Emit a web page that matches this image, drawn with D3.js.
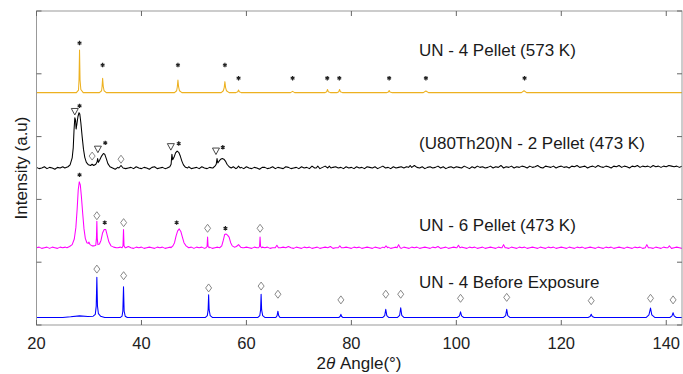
<!DOCTYPE html>
<html>
<meta charset="utf-8">
<script src="https://d3js.org/d3.v7.min.js"></script>
<style>
  body { margin: 0; background: white; }
  text { font-family: "Liberation Sans", Arial, sans-serif; }
</style>
<body>
<div id="chart"></div>
<script>

// ---- data (intensity in a.u., 100 = one y tick) ----
var seriesNames = ["UN - 4 Pellet (573 K)", "(U80Th20)N - 2 Pellet (473 K)", "UN - 6 Pellet (473 K)", "UN - 4 Before Exposure"];
var seriesColors = ["#EDB120", "#000000", "#FF00FF", "#0000FF"];
var seriesOffset = [370, 250, 123, 12];
var xTicks = [20, 40, 60, 80, 100, 120, 140];
var yTicks = [0, 100, 200, 300, 400, 500];

// baseline noise read every 0.5 deg from 20 to 143
var blackNoise = [
  1,-1,0,2,-1,1,0,-2,1,0,2,-1,1,0,-1,2,0,1,-1,0,
  1,-2,0,1,-1,2,0,-1,1,0,-2,1,0,2,-1,0,1,-1,2,0,
  -1,1,0,-2,1,2,-1,0,1,-1,0,2,-1,1,0,-2,1,0,2,-1,
  0,1,-1,2,0,-1,1,0,-2,1,2,0,-1,1,0,2,-1,0,1,-1,
  2,0,-1,1,0,-2,1,1,-1,0,2,-1,1,0,-1,2,1,-1,0,1,
  -1,2,0,1,-1,3,0,2,-1,1,3,0,-1,1,2,0,1,-1,2,0,
  1,-1,2,0,1,-1,2,1,0,2,-1,1,3,0,1,-1,2,0,1,2,
  0,2,-1,1,4,1,0,2,-1,1,2,0,1,3,0,2,-1,1,2,0,
  2,1,0,3,1,-1,2,0,3,1,2,0,1,3,0,2,1,4,0,2,
  1,3,0,2,1,3,2,0,3,1,2,4,1,0,3,2,1,3,0,2,
  3,1,2,0,3,2,4,1,2,3,0,2,3,1,4,2,1,3,2,0,
  3,2,4,1,3,2,0,3,2,4,1,3,2,3,1,4,2,3,1,3,
  2,4,3,2,3,1,3
];
var magentaNoise = [
  0,1,-1,0,1,-1,1,0,-1,1,0,1,-1,0,1,0,-1,1,0,1,
  -1,0,1,-1,0,1,-1,1,0,-1,1,0,1,-1,0,2,0,-1,1,0,
  1,-1,0,1,0,-1,1,0,1,-1,0,1,0,-1,1,0,1,-1,0,1,
  -1,1,0,1,-1,0,1,-1,0,1,0,-1,1,0,1,2,0,1,-1,0,
  1,0,-1,1,0,-1,1,0,1,-1,0,1,-1,0,1,0,2,0,-1,1,
  0,-1,1,0,1,-1,0,1,-1,0,1,0,2,-1,0,1,-1,0,1,0,
  -1,1,0,1,-1,0,1,0,-1,1,0,-1,1,0,1,-1,0,1,0,-1,
  1,0,-1,1,0,1,-1,0,1,0,-1,1,0,2,-1,0,1,-1,0,1,
  0,-1,1,0,-1,1,0,1,-1,0,1,-1,0,1,0,-1,1,0,2,0,
  -1,1,0,-1,1,0,1,-1,0,1,0,-1,1,0,-1,1,0,1,-1,0,
  1,0,-1,1,0,-1,1,0,1,-1,0,1,0,-1,1,0,-1,1,0,1,
  -1,0,1,0,-1,1,0,-1,1,0,1,-1,0,1,0,-1,1,0,-1,1,
  0,1,-1,0,1,0,-1
];

var orangePeaks = [
  [[27.6,0],[28.0,4],[28.1,20],[28.2,68],[28.3,20],[28.45,5],[28.9,0]],
  [[32.0,0],[32.4,3],[32.5,10],[32.6,23],[32.72,10],[32.88,3],[33.3,0]],
  [[46.3,0],[46.7,3],[46.83,9],[46.95,20],[47.08,9],[47.25,3],[47.7,0]],
  [[55.2,0],[55.6,3],[55.77,8],[55.9,17.5],[56.03,8],[56.2,3],[56.7,0]],
  [[58.0,0],[58.35,1.5],[58.5,4.3],[58.65,1.5],[59.0,0]],
  [[68.4,0],[68.8,2],[69.2,0]],
  [[75.0,0],[75.3,1.5],[75.45,5],[75.6,1.5],[76.0,0]],
  [[77.3,0],[77.6,1.5],[77.75,5],[77.9,1.5],[78.3,0]],
  [[86.7,0],[87.05,1],[87.2,3.5],[87.35,1],[87.8,0]],
  [[93.7,0],[94.2,2.7],[94.7,0]],
  [[112.4,0],[112.9,3],[113.4,0]]
];
var blackPeaks = [
  [[25.4,0],[26.0,2],[26.4,5],[26.8,16],[27.0,32],[27.15,60],[27.3,80],[27.45,76],[27.55,62],[27.7,70],
   [27.9,82],[28.1,88],[28.25,86],[28.45,72],[28.7,50],[28.95,30],[29.2,17],[29.5,9],[29.9,5],[30.3,4],
   [30.6,6],[30.9,4],[31.3,6],[31.55,10],[31.65,15],[31.8,9],[32.0,12],[32.4,19],[32.75,23],[33.0,22],
   [33.3,15],[33.6,7],[34.0,2],[34.5,0]],
  [[35.7,0],[36.1,4],[36.5,0]],
  [[44.9,0],[45.4,2],[45.65,6],[45.8,22],[45.95,13],[46.2,17],[46.5,24],[46.8,27],[47.1,25],[47.4,19],
   [47.7,11],[48.0,5],[48.4,1],[48.8,0]],
  [[53.6,0],[54.0,3],[54.25,6],[54.4,15],[54.55,8],[54.8,11],[55.1,14],[55.4,15],[55.7,14],[56.0,11],
   [56.3,6],[56.7,2],[57.1,0]],
  [[58.2,0],[58.5,3],[58.8,0]],
  [[73.3,0],[73.6,3],[73.9,0]],
  [[75.5,0],[75.8,3],[76.1,0]],
  [[90.9,1],[91.2,4],[91.5,1]]
];
var magentaPeaks = [
  [[25.8,0],[26.3,2],[26.8,5],[27.2,14],[27.5,32],[27.75,62],[27.95,92],[28.15,105],[28.35,100],[28.55,82],
   [28.8,55],[29.05,30],[29.3,15],[29.6,8],[29.85,7],[30.0,9],[30.2,5],[30.6,3],[31.0,3],[31.3,4],
   [31.42,15],[31.5,42],[31.58,15],[31.7,5],[32.0,6],[32.3,12],[32.6,24],[32.9,29],[33.2,29],[33.5,19],
   [33.8,9],[34.2,3],[34.7,1],[35.2,0]],
  [[36.3,0],[36.48,3],[36.58,29],[36.68,3],[36.9,0]],
  [[45.6,0],[46.0,3],[46.3,8],[46.6,19],[46.9,27],[47.2,30],[47.5,26],[47.8,17],[48.1,8],[48.5,3],[49.0,0]],
  [[52.3,0],[52.5,2],[52.6,17],[52.7,2],[52.9,0]],
  [[54.9,0],[55.3,3],[55.6,12],[55.85,21],[56.1,22],[56.4,20],[56.7,17],[57.0,8],[57.3,3],[57.7,1],
   [58.1,2],[58.5,5],[58.9,1],[59.3,0]],
  [[62.3,0],[62.5,2],[62.6,17],[62.7,2],[62.9,0]],
  [[65.5,0],[65.8,4],[66.1,0]],
  [[77.5,0],[77.8,3],[78.1,0]],
  [[86.3,0],[86.6,3],[86.9,0]],
  [[88.7,0],[89.0,5],[89.3,0]],
  [[100.1,0],[100.4,4],[100.7,0]],
  [[108.7,0],[109.0,5],[109.3,0]],
  [[136.0,0],[136.3,5],[136.6,0]],
  [[140.3,0],[140.6,3],[140.9,0]]
];
var bluePeaks = [
  [[25.0,0],[26.5,1],[28.2,2.5],[29.8,1.5],[30.8,2],[31.2,5],[31.38,18],[31.5,64],[31.62,18],[31.8,6],[32.2,2],[33.0,0]],
  [[36.0,0],[36.3,2],[36.45,10],[36.58,49],[36.7,10],[36.9,2],[37.3,0]],
  [[52.2,0],[52.55,3],[52.7,12],[52.8,36],[52.9,12],[53.1,3],[53.5,0]],
  [[62.2,0],[62.55,3],[62.7,12],[62.8,37],[62.9,12],[63.1,3],[63.5,0]],
  [[65.6,0],[65.85,3],[66.0,10],[66.15,3],[66.4,0]],
  [[77.6,0],[77.85,1.5],[78.0,5],[78.15,1.5],[78.4,0]],
  [[86.0,0],[86.35,3],[86.55,13],[86.75,3],[87.1,0]],
  [[88.8,0],[89.2,3.5],[89.4,15.5],[89.6,3.5],[90.0,0]],
  [[100.2,0],[100.6,2.5],[100.8,9],[101.0,2.5],[101.4,0]],
  [[109.0,0],[109.4,3],[109.6,13],[109.8,3],[110.2,0]],
  [[125.1,0],[125.5,1.5],[125.7,5],[125.9,1.5],[126.3,0]],
  [[136.2,0],[136.7,4],[137.0,15],[137.25,4],[137.8,0]],
  [[140.7,0],[141.1,2.5],[141.3,7.5],[141.5,2.5],[141.9,0]]
];

// phase markers [angle, intensity]
var starMarks = [
  [28.2,449],[32.6,414],[46.95,414],[55.9,414],[58.5,393],[68.8,393],[75.4,393],[77.7,393],[87.2,393],[94.2,393],[113.0,393],
  [28.2,349],[33.1,290],[47.1,289],[55.5,283],
  [28.2,239],[33.0,163],[46.7,163],[56.0,154]
];
var diamondMarks = [
  [30.6,269],[36.1,264],
  [31.5,174],[36.6,163],[52.6,154],[62.6,154],
  [31.5,89],[36.6,78.5],[52.8,59],[62.8,62],[66.0,49],[78.0,40],[86.55,49],[89.4,49],[100.8,42.5],[109.6,44],[125.7,38.7],[137.0,42.5],[141.3,40]
];
var triangleMarks = [[27.3,340],[31.7,280],[45.6,284],[54.2,277]];

// ---- chart ----
var W = 683, H = 374
var mLeft = 36.5, mRight = 682, mTop = 11, mBottom = 325

var svg = d3.select("#chart").append("svg").attr("width", W).attr("height", H)

var x = d3.scaleLinear().domain([20, 143]).range([mLeft, mRight])
var y = d3.scaleLinear().domain([0, 500]).range([mBottom, mTop])

svg.append("clipPath").attr("id", "clip")
  .append("rect").attr("x", mLeft).attr("y", mTop).attr("width", mRight - mLeft).attr("height", mBottom - mTop)

function merge(base, peaks) {
  var kept = base.filter(function(p) {
    return !peaks.some(function(g) { return p[0] >= g[0][0] && p[0] <= g[g.length - 1][0] })
  })
  return kept.concat.apply(kept, peaks).sort(function(a, b) { return a[0] - b[0] })
}
function grid(noise) { return noise.map(function(v, i) { return [20 + 0.5 * i, v] }) }

var seriesData = [
  merge([[20, 0], [143, 0]], orangePeaks),
  merge(grid(blackNoise), blackPeaks),
  merge(grid(magentaNoise), magentaPeaks),
  merge([[20, 0], [143, 0]], bluePeaks)
]

var plot = svg.append("g").attr("clip-path", "url(#clip)")
seriesData.forEach(function(pts, i) {
  var line = d3.line()
    .x(function(d) { return x(d[0]) })
    .y(function(d) { return y(d[1] + seriesOffset[i]) })
  plot.append("path").datum(pts)
    .attr("d", line)
    .attr("fill", "none")
    .attr("stroke", seriesColors[i])
    .attr("stroke-width", 1.05)
    .attr("stroke-linejoin", "round")
})

// frame + inward ticks
var axisCol = "#999"
svg.append("rect").attr("x", mLeft).attr("y", mTop).attr("width", mRight - mLeft).attr("height", mBottom - mTop)
  .attr("fill", "none").attr("stroke", axisCol).attr("stroke-width", 1)

var xt = svg.append("g")
xTicks.forEach(function(t) {
  xt.append("line").attr("x1", x(t)).attr("x2", x(t)).attr("y1", mBottom).attr("y2", mBottom - 5).attr("stroke", "#666")
  xt.append("line").attr("x1", x(t)).attr("x2", x(t)).attr("y1", mTop).attr("y2", mTop + 5).attr("stroke", "#666")
  xt.append("text").attr("x", x(t)).attr("y", 349).attr("text-anchor", "middle")
    .attr("font-size", "16.5px").attr("fill", "#222").text(t)
})
yTicks.forEach(function(t) {
  xt.append("line").attr("x1", mLeft).attr("x2", mLeft + 5).attr("y1", y(t)).attr("y2", y(t)).attr("stroke", "#666")
  xt.append("line").attr("x1", mRight).attr("x2", mRight - 5).attr("y1", y(t)).attr("y2", y(t)).attr("stroke", "#666")
})

// markers
var mk = svg.append("g")
starMarks.forEach(function(d) {
  var cx = x(d[0]), cy = y(d[1]), r = 2.2
  var p = ""
  for (var k = 0; k < 3; k++) {
    var a = Math.PI / 2 + k * Math.PI / 3
    p += "M" + (cx + r * Math.cos(a)) + "," + (cy - r * Math.sin(a)) + "L" + (cx - r * Math.cos(a)) + "," + (cy + r * Math.sin(a))
  }
  mk.append("path").attr("d", p).attr("stroke", "#222").attr("stroke-width", 1.2)
})
diamondMarks.forEach(function(d) {
  var cx = x(d[0]), cy = y(d[1])
  mk.append("path")
    .attr("d", "M" + cx + "," + (cy - 4) + "L" + (cx + 3) + "," + cy + "L" + cx + "," + (cy + 4) + "L" + (cx - 3) + "," + cy + "Z")
    .attr("fill", "none").attr("stroke", "#7a7a7a").attr("stroke-width", 0.9)
})
triangleMarks.forEach(function(d) {
  var cx = x(d[0]), cy = y(d[1])
  mk.append("path")
    .attr("d", "M" + (cx - 3.5) + "," + (cy - 3) + "L" + (cx + 3.5) + "," + (cy - 3) + "L" + cx + "," + (cy + 3.5) + "Z")
    .attr("fill", "none").attr("stroke", "#333").attr("stroke-width", 0.9)
})

// series labels
var labelY = [56, 149, 231, 288]
seriesNames.forEach(function(n, i) {
  svg.append("text").attr("x", 419).attr("y", labelY[i])
    .attr("font-size", "17px").attr("fill", "#1a1a1a").text(n)
})

// axis titles
var xl = svg.append("text").attr("x", 359).attr("y", 369).attr("text-anchor", "middle")
  .attr("font-size", "17px").attr("fill", "#1a1a1a")
xl.append("tspan").text("2")
xl.append("tspan").attr("font-style", "italic").text("θ")
xl.append("tspan").text(" Angle(°)")

svg.append("text").attr("transform", "translate(27," + ((mTop + mBottom) / 2) + ") rotate(-90)")
  .attr("text-anchor", "middle").attr("font-size", "17px").attr("fill", "#1a1a1a").text("Intensity (a.u)")

</script>
</body>
</html>
